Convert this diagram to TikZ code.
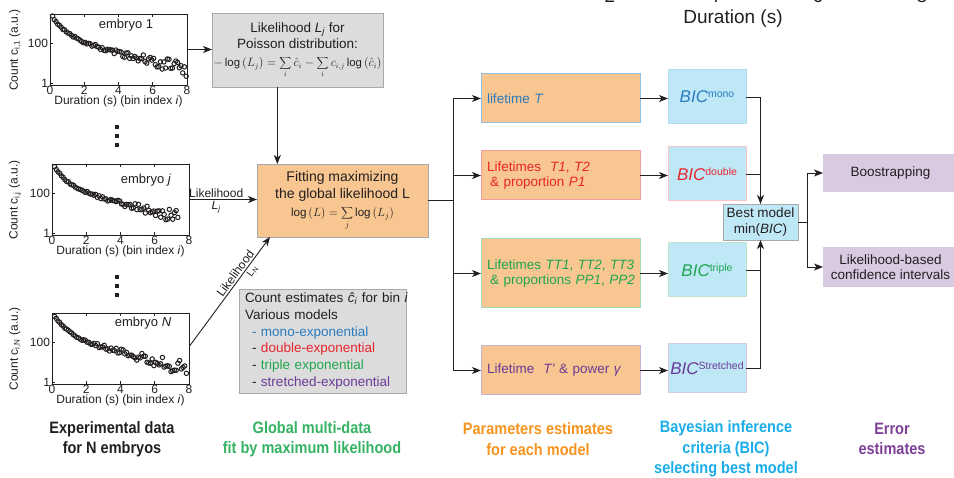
\documentclass[tikz,border=0pt]{standalone}
\usepackage{fontspec}
\setmainfont{Liberation Sans}
\newfontfamily\narrowfont[FakeStretch=0.88]{Liberation Sans}
\usetikzlibrary{arrows.meta,calc}
\definecolor{ink}{HTML}{231F20}
\definecolor{monoC}{HTML}{2B7BBF}
\definecolor{doubleC}{HTML}{E8252D}
\definecolor{tripleC}{HTML}{1FA64F}
\definecolor{strC}{HTML}{6B3A97}
\definecolor{orangeF}{HTML}{F8C690}
\definecolor{blueF}{HTML}{BFE8F7}
\definecolor{grayF}{HTML}{DCDCDC}
\definecolor{grayB}{HTML}{A7A9AC}
\definecolor{purpleF}{HTML}{D9CAE2}
\definecolor{monoB}{HTML}{8FC1E6}
\definecolor{doubleB}{HTML}{F39CA0}
\definecolor{tripleB}{HTML}{A3D9B1}
\definecolor{strB}{HTML}{C7B0DA}
\definecolor{labGreen}{HTML}{35B264}
\definecolor{labOrange}{HTML}{F7941E}
\definecolor{labCyan}{HTML}{1AADE9}
\definecolor{labPurple}{HTML}{7D3F98}
\newcommand{\fs}[2]{\fontsize{#1}{#2}\selectfont}
\newcommand{\bicfont}{\fontsize{17}{19}\selectfont\itshape}
\newcommand{\plotdata}[4]{%
  \pgfmathsetseed{#2}%
  \foreach \t in {0.15,0.25,...,#3}{%
    \pgfmathsetmacro{\f}{max(0.02,min(0.97,0.33*(1-exp(-\t/0.9))+0.06*\t-0.02+rand*(0.012+#4*\t*\t)))}%
    \draw[pt] ($(#1.north west)+(\t*17.125,\f*71)$) circle (2.2pt);
  }%
}
\newcommand{\plotaxes}[1]{%
  \foreach \i/\lab in {0/0,1/2,2/4,3/6,4/8}{%
    \draw[tick] ($(#1.south west)+(\i*34.25,0)$) -- ++(0,-3);
    \draw[tick] ($(#1.north west)+(\i*34.25,0)$) -- ++(0,3);
    \node[plottxt, anchor=north] (#1x\i) at ($(#1.south west)+(\i*34.25,1)$) {\lab};
  }%
  \draw[tick] ($(#1.north west)+(0,29)$) -- ++(3,0);
  \draw[tick] ($(#1.north west)+(0,69)$) -- ++(3,0);
  \node[plottxt, anchor=east] (#1yA) at ($(#1.north west)+(-2,29)$) {100};
  \node[plottxt, anchor=east] (#1yB) at ($(#1.north west)+(-2,69)$) {1};
  \node[plottxt] (#1xl) at ($(#1.south)+(0,16)$) {Duration (s) (bin index \textit{i})};
}
\begin{document}
\begin{tikzpicture}[x=1pt,y=-1pt,
  every node/.style={inner sep=0pt, outer sep=0pt},
  line/.style={draw=ink, line width=0.9pt},
  arr/.style={line, -{Stealth[length=9pt,width=7pt,inset=2.5pt]}},
  frame/.style={draw=ink, line width=0.7pt, minimum width=137pt, minimum height=71pt, anchor=north west},
  pt/.style={draw=ink, line width=1pt},
  tick/.style={draw=ink, line width=0.6pt},
  plottxt/.style={font=\fs{12}{14}, text=ink},
  box/.style={rectangle, line width=0.8pt, font=\fs{13.5}{16.5}, text=ink},
  pbox/.style={box, fill=orangeF, line width=1pt, minimum width=159pt, text width=147pt, inner xsep=6pt, align=left, font=\fs{13.5}{15.5}},
  bbox/.style={box, fill=blueF, line width=1pt, minimum width=78pt, minimum height=54pt},
  bottom/.style={font=\narrowfont\bfseries\fs{16.5}{20.5}, align=center},
  dot/.style={fill=ink, minimum size=3.6pt}
]
\useasboundingbox (0,0) rectangle (954,478);

% ---------- plots ----------
\node[frame] (p1) at (50,14) {};
\node[frame] (p2) at (52,164) {};
\node[frame] (p3) at (52,313) {};
\plotdata{p1}{3}{8.0}{0.0016}
\plotdata{p2}{7}{7.4}{0.0015}
\plotdata{p3}{11}{7.9}{0.0021}
\plotaxes{p1}
\plotaxes{p2}
\plotaxes{p3}
\node[font=\fs{13}{15}, text=ink] (e1) at (126,25) {embryo 1};
\node[font=\fs{13}{15}, text=ink] (e2) at (146,180) {embryo \textit{j}};
\node[font=\fs{13}{15}, text=ink] (e3) at (143,323) {embryo \textit{N}};
\node[plottxt, rotate=90] (yl1) at (15,50) {Count c\textsubscript{i,1} (a.u.)};
\node[plottxt, rotate=90] (yl2) at (15,200) {Count c\textsubscript{i,j} (a.u.)};
\node[plottxt, rotate=90] (yl3) at (15,349) {Count c\textsubscript{i,N} (a.u.)};
\node[dot] (d1) at (117,127) {};
\node[dot] (d2) at (117,136) {};
\node[dot] (d3) at (117,145) {};
\node[dot] (d4) at (117,277) {};
\node[dot] (d5) at (117,286) {};
\node[dot] (d6) at (117,295) {};

% ---------- likelihood / fit / count boxes ----------
\node[box, draw=grayB, fill=grayF, minimum width=171pt, minimum height=74pt, anchor=north west, align=center] (lk) at (212,13)
  {Likelihood \textit{L}\textsubscript{\textit{j}} for\\Poisson distribution:\\[1pt]
   \resizebox{168pt}{!}{$-\log\left(L_j\right)=\displaystyle\sum_i \hat{c}_i-\sum_i c_{i,j}\log\left(\hat{c}_i\right)$}};
\node[box, draw=grayB, fill=orangeF, minimum width=171pt, minimum height=73pt, anchor=north west, align=center, font=\fs{14}{17}] (fit) at (257,164)
  {Fitting maximizing\\the global likelihood L\\[1pt]
   \resizebox{103pt}{!}{$\log\left(L\right)=\displaystyle\sum_j\log\left(L_j\right)$}};
\node[box, draw=grayB, fill=grayF, minimum width=166pt, minimum height=104pt, text width=155pt, inner xsep=6pt, anchor=north west, align=left, font=\fs{13.5}{16.8}] (cnt) at (239,289)
  {\mbox{Count estimates \textit{ĉ}\textsubscript{\textit{i}} for bin \textit{i}}\\
   Various models\\
   \hspace*{7pt}{\color{monoC}- mono-exponential}\\
   \hspace*{7pt}- {\color{doubleC}double-exponential}\\
   \hspace*{7pt}- {\color{tripleC}triple exponential}\\
   \hspace*{7pt}- {\color{strC}stretched-exponential}};

% ---------- parameter boxes ----------
\node[pbox, draw=monoB, minimum height=49pt, text=monoC] (m1) at (560.5,98.5) {lifetime \textit{T}};
\node[pbox, draw=doubleB, minimum height=49pt, text=doubleC] (m2) at (560.5,175.5) {\mbox{Lifetimes ~\textit{T1}, \textit{T2}}\\ \mbox{\hspace*{3pt}\& proportion \textit{P1}}};
\node[pbox, draw=tripleB, minimum height=69pt, text=tripleC] (m3) at (560.5,273.5) {\mbox{Lifetimes \textit{TT1}, \textit{TT2}, \textit{TT3}}\\ \mbox{\hspace*{3pt}\& proportions \textit{PP1}, \textit{PP2}}};
\node[pbox, draw=strB, minimum height=49pt, text=strC] (m4) at (560.5,370.5) {\mbox{Lifetime ~\textit{T'} \& power \textit{γ}}};

% ---------- BIC boxes ----------
\node[bbox, draw=blueF!70!monoB] (b1) at (707,97) {\color{monoC}{\bicfont BIC}\raisebox{5pt}{\fs{10.5}{12}mono}};
\node[bbox, draw=doubleB!60] (b2) at (707,174) {\color{doubleC}{\bicfont BIC}\raisebox{5pt}{\fs{10.5}{12}double}};
\node[bbox, draw=tripleB!70] (b3) at (707,270) {\color{tripleC}{\bicfont BIC}\raisebox{5pt}{\fs{10.5}{12}triple}};
\node[bbox, draw=strB!70, minimum height=49pt] (b4) at (707,368.5) {\color{strC}{\bicfont BIC}\raisebox{5pt}{\fs{10.5}{12}Stretched}};
\node[box, draw=grayB, fill=blueF, minimum width=75pt, minimum height=36pt, align=center, font=\fs{13.5}{16}] (best) at (760.5,222) {Best model\\min(\textit{BIC})};

% ---------- error boxes ----------
\node[box, fill=purpleF, minimum width=135pt, minimum height=38pt, anchor=west] (boot) at (823,173) {Boostrapping};
\node[box, fill=purpleF, minimum width=135pt, minimum height=40pt, anchor=west, align=center, font=\fs{13.5}{15}] (ci) at (823,267) {Likelihood-based\\confidence intervals};

% ---------- connectors ----------
\draw[arr] (p1.east) -- (p1.east -| lk.west);
\coordinate (lkout) at ($(lk.south west)!0.382!(lk.south east)$);
\draw[arr] (lkout) -- (lkout |- fit.north);
\draw[arr] (p2.east) -- (p2.east -| fit.west)
  node[pos=0.4, above=2pt, font=\fs{12}{14}, text=ink] (lab1) {Likelihood}
  node[pos=0.4, below=2pt, font=\fs{12}{14}, text=ink] (lab2) {\textit{L}\textsubscript{\textit{j}}};
\coordinate (fitin) at ($(fit.south west)+(13,0)$);
\coordinate (p3out) at ($(p3.east)+(1,-3)$);
\draw[arr] (p3out) -- (fitin)
  node[pos=0.63, sloped, above=2pt, font=\fs{12}{14}, text=ink] (lab3) {Likelihood}
  node[pos=0.72, sloped, below=2pt, font=\fs{10}{12}, text=ink] (lab4) {L\textsubscript{N}};
\coordinate (tr) at (453,200.5);
\draw[line] (fit.east) -- (tr);
\draw[arr] (tr) |- (m1.west);
\draw[arr] (tr) |- (m2.west);
\draw[arr] (tr) |- (m3.west);
\draw[arr] (tr) |- (m4.west);
\draw[arr] (m1.east) -- (m1.east -| b1.west);
\draw[arr] (m2.east) -- (m2.east -| b2.west);
\draw[arr] (m3.east) -- (m3.east -| b3.west);
\draw[arr] (m4.east) -- (m4.east -| b4.west);
\draw[arr] (b1.east) -| (best.north);
\draw[line] (b2.east) -- (b2.east -| best.north);
\draw[arr] (b4.east) -| (best.south);
\draw[line] (b3.east) -- (b3.east -| best.south);
\coordinate (j2) at (807,222);
\draw[line] (best.east) -- (j2);
\draw[arr] (j2) |- (boot.west);
\draw[arr] (j2) |- (ci.west);

% ---------- bottom captions ----------
\node[bottom, text=ink] (c1) at (112,439) {Experimental data\\for N embryos};
\node[bottom, text=labGreen] (c2) at (312,439) {Global multi-data\\fit by maximum likelihood};
\node[bottom, text=labOrange] (c3) at (538,439) {Parameters estimates\\for each model};
\node[bottom, text=labCyan] (c4) at (726,449) {Bayesian inference\\criteria (BIC)\\selecting best model};
\node[bottom, text=labPurple] (c5) at (892,439) {Error\\estimates};

% ---------- cut-off remnant at top ----------
\node[font=\fs{19}{22}, text=ink] (dur) at (733,19) {Duration (s)};
\node[font=\fs{19}{22}, text=ink] (t2) at (610,-4) {2};
\node[font=\fs{19}{22}, text=ink] (t4) at (714,-4) {4};
\node[font=\fs{19}{22}, text=ink] (t6) at (818,-4) {6};
\node[font=\fs{19}{22}, text=ink] (t8) at (922,-4) {8};
\end{tikzpicture}
\end{document}
